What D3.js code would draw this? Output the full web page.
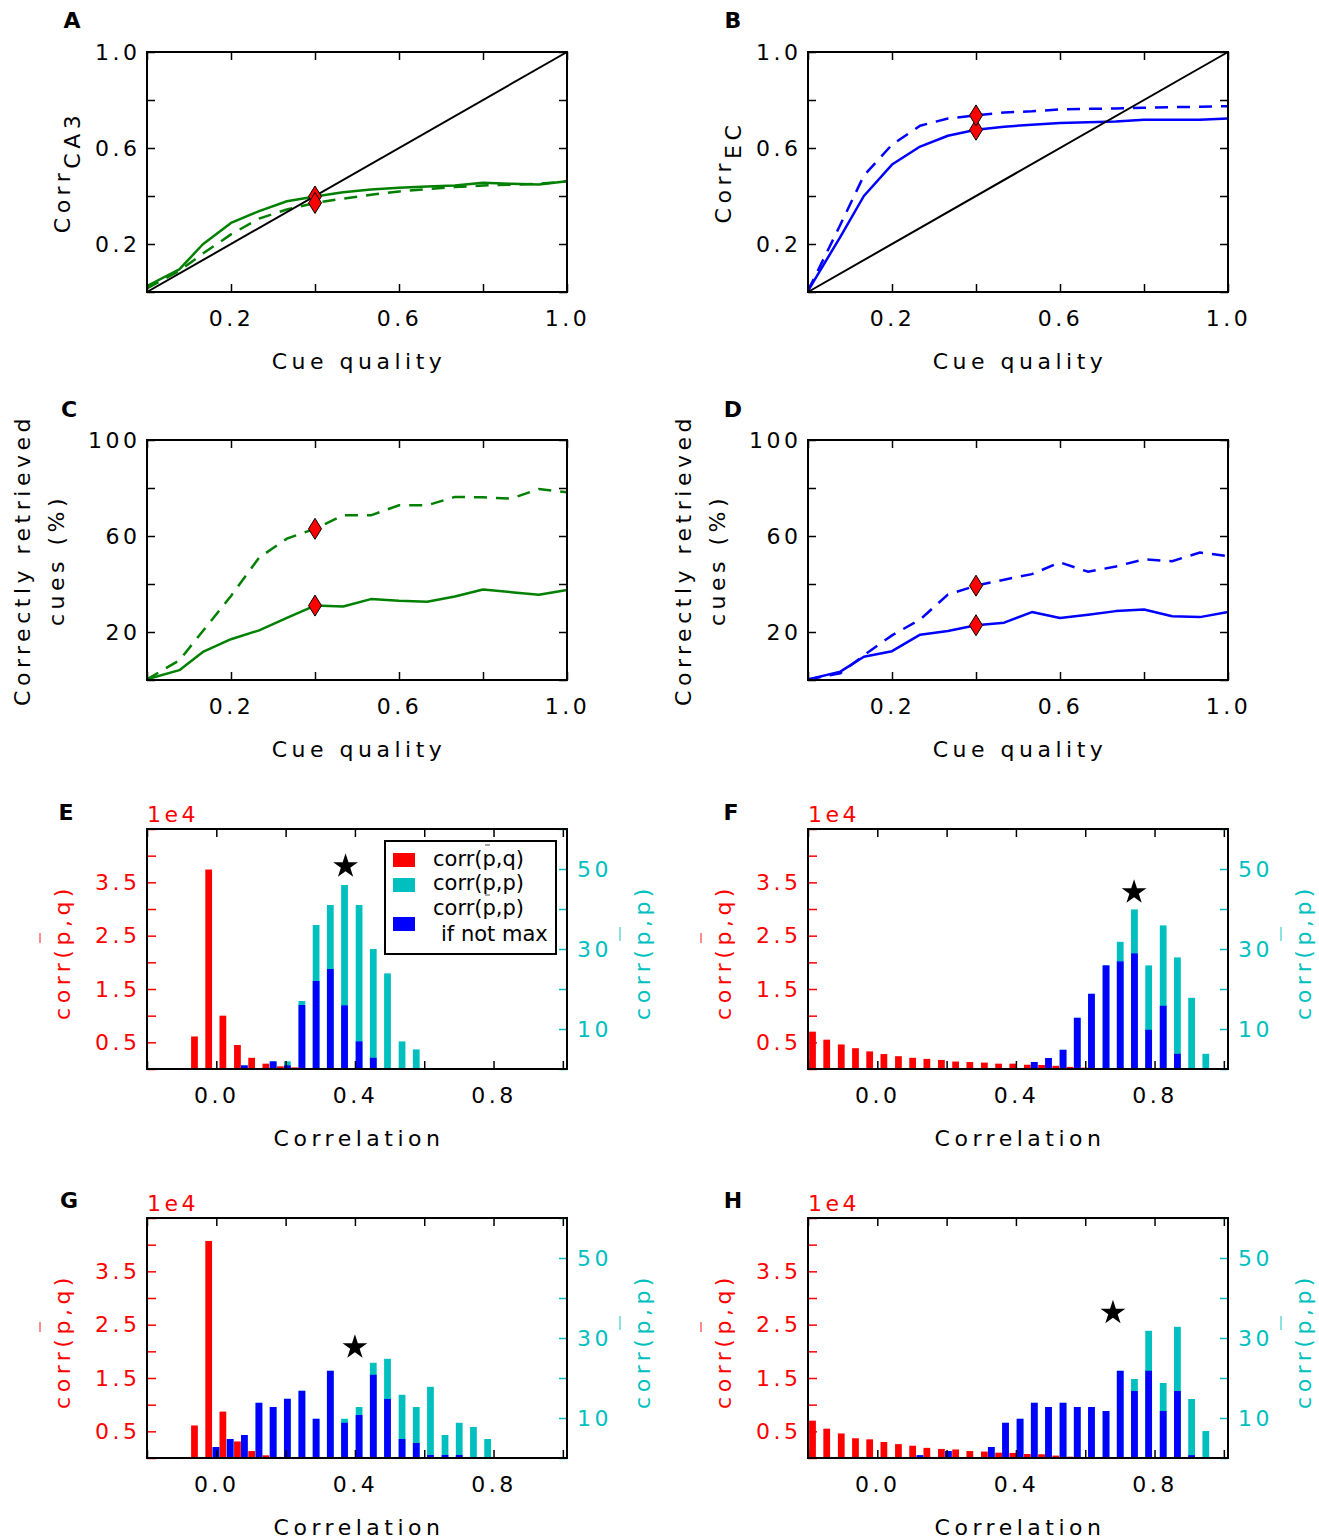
<!DOCTYPE html>
<html><head><meta charset="utf-8">
<script src="https://cdn.jsdelivr.net/npm/d3@7"></script>
<style>
body{margin:0;background:#fff}
text{font-family:"DejaVu Sans",sans-serif}
</style>
</head><body>
<svg id="fig" width="1319" height="1540"></svg>
<script>
// ---------- data ----------
const cueQuality = [0, 0.077, 0.133, 0.2, 0.267, 0.333, 0.4, 0.467, 0.533, 0.6, 0.667, 0.733, 0.8, 0.867, 0.933, 1.0];
const markerIndex = 6;
const ca3Solid  = [0.025,0.094,0.199,0.288,0.337,0.378,0.398,0.416,0.427,0.434,0.440,0.444,0.455,0.451,0.448,0.461];
const ca3Dashed = [0.015,0.088,0.160,0.240,0.306,0.344,0.371,0.389,0.405,0.419,0.429,0.437,0.444,0.447,0.451,0.461];
const ecSolid   = [0.005,0.230,0.400,0.531,0.606,0.651,0.676,0.689,0.697,0.704,0.707,0.710,0.718,0.718,0.718,0.723];
const ecDashed  = [0.005,0.280,0.485,0.614,0.693,0.723,0.736,0.748,0.753,0.761,0.763,0.765,0.768,0.770,0.772,0.774];
const retrCA3Solid  = [0.3,4.1,11.7,17.0,20.7,25.9,31.0,30.6,33.7,33.0,32.6,34.8,37.7,36.6,35.5,37.5];
const retrCA3Dashed = [0.3,8.2,20.4,35.0,51.0,58.9,63.0,68.6,68.6,72.8,72.8,76.3,76.1,75.6,79.6,78.2];
const retrECSolid   = [0.2,3.5,9.7,12.0,18.9,20.4,22.8,23.9,28.3,25.8,27.2,28.7,29.4,26.6,26.2,28.3];
const retrECDashed  = [0.2,2.8,10.3,18.6,25.2,35.6,39.3,41.8,44.1,49.0,45.1,47.3,50.3,49.5,53.1,51.6];

const lineXTicks = [0,0.2,0.4,0.6,0.8,1.0];
const lineXLabels = [0.2,0.6,1.0];
const corrYTicks = [0,0.2,0.4,0.6,0.8,1.0];
const corrYLabels = [0.2,0.6,1.0];
const retrYTicks = [0,20,40,60,80,100];
const retrYLabels = [20,60,100];

// histogram bin centres (Correlation)
const redBins = [-0.187,-0.146,-0.104,-0.063,-0.022,0.019,0.061,0.102,0.143,0.185,0.226,0.267,0.309,0.350,0.391,0.433,0.474,0.515,0.556,0.598,0.639];
const ppBins  = [-0.001,0.040,0.081,0.123,0.164,0.205,0.247,0.288,0.329,0.370,0.412,0.453,0.494,0.536,0.577,0.618,0.660,0.701,0.742,0.783,0.825,0.866,0.907,0.948];

// corr(p-bar,q) counts (x1e4)
const redE = [0,0,0,0.61,3.74,1.00,0.45,0.21,0.10,0.05,0.03,0,0,0,0,0,0,0,0,0,0];
const redF = [0.70,0.55,0.46,0.39,0.33,0.28,0.24,0.21,0.19,0.17,0.14,0.13,0.12,0.10,0.10,0.08,0.075,0.06,0.04,0.025,0.012];
const redG = [0,0,0,0.61,4.07,0.87,0.31,0.13,0.05,0.02,0.01,0,0,0,0,0,0,0,0,0,0];
const redH = [0.70,0.55,0.46,0.37,0.35,0.30,0.26,0.23,0.19,0.17,0.16,0.13,0.12,0.10,0.095,0.075,0.07,0.045,0.025,0,0];
// corr(p-bar,p) counts
const cyanE = [0,0,0.9,0,1.9,1.9,17,36,41,46,41,30,23.9,6.9,4.9,0,0,0,0,0,0,0,0,0];
const blueE = [0,0,0.9,0,1.9,0.9,16,22,25,15.9,6.9,2.8,0,0,0,0,0,0,0,0,0,0,0,0];
const cyanF = [0,0,0,0,0,0,0,0,0,0,0,1.75,2.75,4.8,12.8,18.8,25.9,31.8,39.9,25.9,35.9,27.9,17.8,3.8];
const blueF = [0,0,0,0,0,0,0,0,0,0,0,1.75,2.75,4.8,12.8,18.8,25.9,26.9,28.9,9.8,15.8,3.8,0,0];
const cyanG = [2.75,4.75,5.75,13.8,12.75,14.8,16.8,9.8,21.8,9.8,12.75,23.8,24.8,15.8,12.75,17.8,5.75,8.8,7.75,4.75,0,0,0,0];
const blueG = [2.75,4.75,5.75,13.8,12.75,14.8,16.8,9.8,21.8,8.8,10.75,20.8,14.75,4.75,3.75,0.75,0.75,0.75,0,0,0,0,0,0];
const cyanH = [0,0,0,0.7,0,1.75,0,0,2.75,8.8,9.8,13.8,12.75,13.8,12.75,12.75,11.75,21.8,19.75,31.8,18.75,32.8,14.75,6.75];
const blueH = [0,0,0,0.7,0,1.75,0,0,2.75,8.8,9.8,13.8,12.75,13.8,12.75,12.75,11.75,21.8,16.75,21.8,11.75,16.75,0.7,0];
// star markers [correlation, corr(p-bar,p) axis value]
const starE = [0.373, 50.7];
const starF = [0.741, 44.2];
const starG = [0.400, 27.7];
const starH = [0.680, 36.3];

const histXTicks = [-0.2,0,0.2,0.4,0.6,0.8,1.0];
const histXLabels = [0.0,0.4,0.8];
const leftYTicks = [0,0.5,1,1.5,2,2.5,3,3.5,4,4.5];
const leftYLabels = [0.5,1.5,2.5,3.5];
const rightYTicks = [0,10,20,30,40,50,60];
const rightYLabels = [10,30,50];

// ---------- drawing ----------
const svg = d3.select('#fig');
const W = 420, H = 240;
const FS = 22, TLS = 3.5, LLS = 4.5;
const GREEN = '#008000', BLUE = '#0000ff', RED = '#ff0000', CYAN = '#00bfbf';

function fmtSel(labels, f) {
  return d => labels.some(l => Math.abs(l - d) < 1e-9) ? f(d) : '';
}
function styleAxis(g, color) {
  g.select('.domain').remove();
  g.selectAll('.tick line').attr('stroke', color).attr('stroke-width', 1.5);
  g.selectAll('.tick text').attr('fill', color).attr('font-size', FS)
    .attr('letter-spacing', TLS).attr('font-family', '"DejaVu Sans",sans-serif');
}
function addAxes(g, x, y, o) {
  const bx = g.append('g').attr('transform', `translate(0,${H})`)
    .call(d3.axisBottom(x).tickValues(o.xt).tickSizeInner(-8).tickSizeOuter(0).tickPadding(18).tickFormat(fmtSel(o.xl, o.xf)));
  styleAxis(bx, '#000');
  const tx = g.append('g').call(d3.axisTop(x).tickValues(o.xt).tickSizeInner(-8).tickSizeOuter(0).tickFormat(''));
  styleAxis(tx, '#000');
  const ly = g.append('g').call(d3.axisLeft(y).tickValues(o.yt).tickSizeInner(-(o.ylen||8)).tickSizeOuter(0).tickPadding(10 - TLS).tickFormat(fmtSel(o.yl, o.yf)));
  styleAxis(ly, o.ycolor || '#000');
  const y2 = o.y2 || y;
  const ry = g.append('g').attr('transform', `translate(${W},0)`)
    .call(d3.axisRight(y2).tickValues(o.y2t || o.yt).tickSizeInner(-8).tickSizeOuter(0).tickPadding(10)
      .tickFormat(o.y2l ? fmtSel(o.y2l, o.y2f) : ''));
  styleAxis(ry, o.y2color || '#000');
}
function frame(g) {
  g.append('rect').attr('width', W).attr('height', H).attr('fill', 'none')
    .attr('stroke', '#000').attr('stroke-width', 2);
}
function panelLetter(t, x, y) {
  svg.append('text').attr('x', x).attr('y', y).attr('text-anchor', 'middle')
    .attr('font-size', 22).attr('font-weight', 'bold').text(t);
}
function spacedText(parent, t, x, y, color, anchor) {
  return parent.append('text').attr('x', x).attr('y', y).attr('text-anchor', anchor || 'middle')
    .attr('font-size', FS).attr('letter-spacing', LLS).attr('fill', color || '#000').text(t);
}
function diamond(g, cx, cy) {
  g.append('path').attr('d', 'M0,-10.5L6.5,0L0,10.5L-6.5,0Z')
    .attr('transform', `translate(${cx},${cy})`).attr('fill', RED)
    .attr('stroke', '#000').attr('stroke-width', 1);
}

function linePanel(ox, oy, o) {
  const g = svg.append('g').attr('transform', `translate(${ox},${oy})`);
  const x = d3.scaleLinear().domain([0, 1]).range([0, W]);
  const y = d3.scaleLinear().domain(o.ydom).range([H, 0]);
  const line = d3.line().x((d, i) => x(cueQuality[i])).y(d => y(d));
  g.append('path').datum(o.solid).attr('d', line).attr('fill', 'none')
    .attr('stroke', o.color).attr('stroke-width', 2.5).attr('stroke-linejoin', 'round');
  g.append('path').datum(o.dashed).attr('d', line).attr('fill', 'none')
    .attr('stroke', o.color).attr('stroke-width', 2.5).attr('stroke-dasharray', '13,9');
  if (o.diag) {
    g.append('path').datum([0, 1]).attr('d', d3.line().x(d => x(d)).y(d => y(d)))
      .attr('stroke', '#000').attr('stroke-width', 2).attr('fill', 'none');
  }
  const xi = cueQuality[markerIndex];
  diamond(g, x(xi), y(o.solid[markerIndex]));
  diamond(g, x(xi), y(o.dashed[markerIndex]));
  addAxes(g, x, y, {xt: lineXTicks, xl: lineXLabels, xf: d3.format('.1f'),
    yt: o.yt, yl: o.yl, yf: o.yf});
  frame(g);
  spacedText(g, 'Cue quality', W / 2 + 2, H + 77);
  return g;
}

function histPanel(ox, oy, red, cyan, blue, star, legend) {
  const g = svg.append('g').attr('transform', `translate(${ox},${oy})`);
  const x = d3.scaleLinear().domain([-0.2, 1.012]).range([0, W]);
  const yl = d3.scaleLinear().domain([0, 4.5]).range([H, 0]);
  const yr = d3.scaleLinear().domain([0, 60]).range([H, 0]);
  const bw = 0.0195;
  const clip = 'clip' + ox + '_' + oy;
  g.append('clipPath').attr('id', clip).append('rect').attr('width', W).attr('height', H);
  const bars = g.append('g').attr('clip-path', `url(#${clip})`);
  const rd = redBins.map((c, i) => [c, red[i]]).filter(d => d[1] > 0);
  bars.selectAll('.r').data(rd).join('rect').attr('class', 'r')
    .attr('x', d => x(d[0] - bw / 2)).attr('width', d => x(d[0] + bw / 2) - x(d[0] - bw / 2))
    .attr('y', d => yl(d[1])).attr('height', d => yl(0) - yl(d[1])).attr('fill', RED);
  const cd = ppBins.map((c, i) => [c, cyan[i]]).filter(d => d[1] > 0);
  bars.selectAll('.c').data(cd).join('rect').attr('class', 'c')
    .attr('x', d => x(d[0] - bw / 2)).attr('width', d => x(d[0] + bw / 2) - x(d[0] - bw / 2))
    .attr('y', d => yr(d[1])).attr('height', d => yr(0) - yr(d[1])).attr('fill', CYAN);
  const bd = ppBins.map((c, i) => [c, blue[i]]).filter(d => d[1] > 0);
  bars.selectAll('.b').data(bd).join('rect').attr('class', 'b')
    .attr('x', d => x(d[0] - bw / 2)).attr('width', d => x(d[0] + bw / 2) - x(d[0] - bw / 2))
    .attr('y', d => yr(d[1])).attr('height', d => yr(0) - yr(d[1])).attr('fill', BLUE);
  g.append('path').attr('d', d3.symbol(d3.symbolStar).size(190)())
    .attr('transform', `translate(${x(star[0])},${yr(star[1])})`).attr('fill', '#000');
  addAxes(g, x, yl, {xt: histXTicks, xl: histXLabels, xf: d3.format('.1f'),
    yt: leftYTicks, yl: leftYLabels, yf: d3.format('.1f'), ycolor: RED, ylen: 9,
    y2: yr, y2t: rightYTicks, y2l: rightYLabels, y2f: d3.format('d'), y2color: CYAN});
  frame(g);
  spacedText(g, 'Correlation', W / 2 + 2, H + 77);
  g.append('text').attr('x', 0).attr('y', -7).attr('font-size', FS).attr('letter-spacing', TLS)
    .attr('fill', RED).text('1e4');
  // y labels
  g.append('text').attr('transform', `translate(-77,${123}) rotate(-90)`).attr('text-anchor', 'middle')
    .attr('font-size', FS).attr('letter-spacing', LLS).attr('fill', RED).text('corr(p,q)');
  g.append('line').attr('x1', -107).attr('x2', -107).attr('y1', 104).attr('y2', 114)
    .attr('stroke', RED).attr('stroke-width', 1.5).attr('opacity', 0.6);
  g.append('text').attr('transform', `translate(${W + 83},${123}) rotate(-90)`).attr('text-anchor', 'middle')
    .attr('font-size', FS).attr('letter-spacing', LLS).attr('fill', CYAN).text('corr(p,p)');
  g.append('line').attr('x1', W + 53).attr('x2', W + 53).attr('y1', 98).attr('y2', 112)
    .attr('stroke', CYAN).attr('stroke-width', 1.5).attr('opacity', 0.6);
  if (legend) {
    const lg = g.append('g').attr('transform', `translate(${385 - 147},${841 - 829})`);
    lg.append('rect').attr('width', 171).attr('height', 113).attr('fill', '#fff')
      .attr('stroke', '#000').attr('stroke-width', 2);
    const items = [[RED, 12, 'corr(p,q)', 25], [CYAN, 37, 'corr(p,p)', 49], [BLUE, 76, 'corr(p,p)', 74]];
    items.forEach(([c, sy, t, by]) => {
      lg.append('rect').attr('x', 8).attr('y', sy).attr('width', 22).attr('height', 14).attr('fill', c);
      lg.append('text').attr('x', 48).attr('y', by).attr('font-size', 21).text(t);
    });
    lg.append('text').attr('x', 56).attr('y', 100).attr('font-size', 21).text('if not max');
    lg.append('line').attr('x1', 100).attr('x2', 105).attr('y1', 4).attr('y2', 4)
      .attr('stroke', '#888').attr('stroke-width', 1.5);
    lg.append('line').attr('x1', 100).attr('x2', 105).attr('y1', 54).attr('y2', 54)
      .attr('stroke', '#888').attr('stroke-width', 1.5);
  }
  return g;
}

function rotLabel(x, y, parts) {
  const t = svg.append('text').attr('transform', `translate(${x},${y}) rotate(-90)`)
    .attr('text-anchor', 'middle').attr('font-size', FS).attr('letter-spacing', LLS);
  parts.forEach(p => {
    const s = t.append('tspan').text(p[0]);
    if (p[1]) s.attr('dy', p[1]);
  });
  return t;
}

// Panel A
linePanel(147, 52, {ydom: [0, 1], solid: ca3Solid, dashed: ca3Dashed, color: GREEN, diag: true,
  yt: corrYTicks, yl: corrYLabels, yf: d3.format('.1f')});
rotLabel(70, 172, [['Corr'], ['CA3', 10]]);
panelLetter('A', 72, 28);
// Panel B
linePanel(808, 52, {ydom: [0, 1], solid: ecSolid, dashed: ecDashed, color: BLUE, diag: true,
  yt: corrYTicks, yl: corrYLabels, yf: d3.format('.1f')});
rotLabel(731, 172, [['Corr'], ['EC', 10]]);
panelLetter('B', 733, 28);
// Panel C
linePanel(147, 440, {ydom: [0, 100], solid: retrCA3Solid, dashed: retrCA3Dashed, color: GREEN, diag: false,
  yt: retrYTicks, yl: retrYLabels, yf: d3.format('d')});
rotLabel(30, 560, [['Correctly retrieved']]);
rotLabel(64, 560, [['cues (%)']]);
panelLetter('C', 69, 417);
// Panel D
linePanel(808, 440, {ydom: [0, 100], solid: retrECSolid, dashed: retrECDashed, color: BLUE, diag: false,
  yt: retrYTicks, yl: retrYLabels, yf: d3.format('d')});
rotLabel(691, 560, [['Correctly retrieved']]);
rotLabel(725, 560, [['cues (%)']]);
panelLetter('D', 733, 417);
// Panels E-H
histPanel(147, 829, redE, cyanE, blueE, starE, true);
panelLetter('E', 66, 820);
histPanel(808, 829, redF, cyanF, blueF, starF, false);
panelLetter('F', 731, 820);
histPanel(147, 1218, redG, cyanG, blueG, starG, false);
panelLetter('G', 69, 1208);
histPanel(808, 1218, redH, cyanH, blueH, starH, false);
panelLetter('H', 733, 1208);
</script>
</body></html>
